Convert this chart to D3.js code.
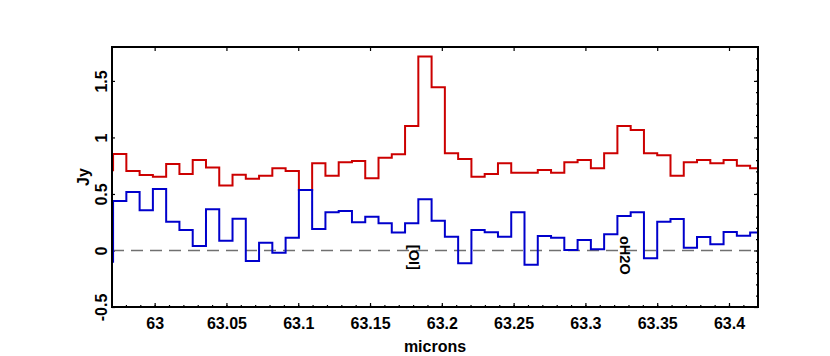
<!DOCTYPE html>
<html>
<head>
<meta charset="utf-8">
<title>Spectrum</title>
<style>
    body { margin: 0; background: #fff; }
    svg text { font-family: "Liberation Sans", Arial, sans-serif; font-weight: bold; }
</style>
</head>
<body>
<script src="https://cdn.jsdelivr.net/npm/d3@7/dist/d3.min.js"></script>
<script>
    // bin left edges (microns), last entry is the right edge of the last bin
    var edges = [62.96181, 62.97105, 62.98029, 62.98953, 62.99878, 63.00802, 63.01726, 63.02651,
        63.03575, 63.04499, 63.05424, 63.06348, 63.07272, 63.08196, 63.09121, 63.10045,
        63.10969, 63.11894, 63.12818, 63.13742, 63.14667, 63.15591, 63.16515, 63.17440,
        63.18364, 63.19288, 63.20212, 63.21137, 63.22061, 63.22985, 63.23910, 63.24834,
        63.25758, 63.26683, 63.27607, 63.28531, 63.29456, 63.30380, 63.31304, 63.32228,
        63.33153, 63.34077, 63.35001, 63.35926, 63.36850, 63.37774, 63.38699, 63.39623,
        63.40547, 63.41472, 63.42396];

    // flux (Jy) per bin
    var fluxRed = [0.71, 0.854, 0.703, 0.668, 0.653, 0.765, 0.677, 0.80, 0.733, 0.574,
        0.671, 0.635, 0.662, 0.727, 0.703, 0.535, 0.771, 0.662, 0.78, 0.792,
        0.639, 0.821, 0.851, 1.101, 1.715, 1.444, 0.86, 0.809, 0.653, 0.677,
        0.771, 0.688, 0.688, 0.712, 0.688, 0.78, 0.80, 0.727, 0.86, 1.101,
        1.066, 0.86, 0.842, 0.662, 0.78, 0.80, 0.771, 0.80, 0.75, 0.727];

    var fluxBlue = [-0.099, 0.438, 0.518, 0.355, 0.544, 0.255, 0.181, 0.04, 0.364, 0.087,
        0.281, -0.093, 0.069, -0.019, 0.113, 0.535, 0.19, 0.338, 0.349, 0.249,
        0.299, 0.24, 0.158, 0.24, 0.453, 0.264, 0.122, -0.114, 0.181, 0.161,
        0.122, 0.338, -0.126, 0.128, 0.113, 0.004, 0.093, 0.011, 0.143, 0.305,
        0.338, -0.069, 0.255, 0.279, 0.025, 0.119, 0.055, 0.164, 0.131, 0.158];

    var xTicks = [63, 63.05, 63.1, 63.15, 63.2, 63.25, 63.3, 63.35, 63.4];
    var xTickLabels = ["63", "63.05", "63.1", "63.15", "63.2", "63.25", "63.3", "63.35", "63.4"];
    var yTicks = [-0.5, 0, 0.5, 1, 1.5];
    var yTickLabels = ["-0.5", "0", "0.5", "1", "1.5"];

    var lineLabels = ["[OI]", "oH2O"];
    var lineLabelPos = [63.1769, 63.3239];
    var lineLabelTop = [0.05, 0.128];

    var margin = {top: 47, right: 72, bottom: 49, left: 112},
        width = 830 - margin.left - margin.right,
        height = 356 - margin.top - margin.bottom;

    var x = d3.scaleLinear().domain([62.9703, 63.4202]).range([0, width]);
    var y = d3.scaleLinear().domain([-0.5, 1.8]).range([height, 0]);

    var svg = d3.select("body").append("svg")
        .attr("width", 830)
        .attr("height", 356)
        .append("g")
        .attr("transform", "translate(" + margin.left + "," + margin.top + ")");

    svg.append("clipPath").attr("id", "clip")
        .append("rect").attr("width", width).attr("height", height);

    // minor ticks
    var xMinor = d3.range(-3, 43).map(function (i) { return +(63 + i * 0.01).toFixed(2); });
    var yMinor = d3.range(-5, 19).map(function (i) { return +(i * 0.1).toFixed(1); });

    function tickStyle(g) {
        g.select(".domain").remove();
        g.selectAll("line").attr("stroke", "#000").attr("stroke-width", 1.2);
    }

    svg.append("g")
        .attr("transform", "translate(0," + height + ")")
        .call(d3.axisBottom(x).tickValues(xMinor).tickSize(-2).tickFormat(""))
        .call(tickStyle);

    svg.append("g")
        .attr("transform", "translate(" + width + ",0)")
        .call(d3.axisRight(y).tickValues(yMinor).tickSize(-2).tickFormat(""))
        .call(tickStyle);

    var xAxis = svg.append("g")
        .attr("transform", "translate(0," + height + ")")
        .call(d3.axisBottom(x).tickValues(xTicks).tickSize(-4).tickPadding(11)
            .tickFormat(function (d, i) { return xTickLabels[i]; }))
        .call(tickStyle);
    xAxis.selectAll("text")
        .attr("fill", "#000")
        .style("font-size", "16px");

    svg.append("g")
        .call(d3.axisTop(x).tickValues(xTicks).tickSize(-4).tickFormat(""))
        .call(tickStyle);

    svg.append("g")
        .attr("transform", "translate(" + width + ",0)")
        .call(d3.axisRight(y).tickValues(yTicks).tickSize(-4).tickFormat(""))
        .call(tickStyle);

    var yAxis = svg.append("g")
        .call(d3.axisLeft(y).tickValues(yTicks).tickSize(-3)
            .tickFormat(function (d, i) { return yTickLabels[i]; }))
        .call(tickStyle);
    yAxis.selectAll("text")
        .attr("fill", "#000")
        .attr("transform", "rotate(-90)")
        .attr("x", 0)
        .attr("y", -5)
        .attr("dy", 0)
        .style("text-anchor", "middle")
        .style("font-size", "16px");

    // zero line
    svg.append("line")
        .attr("x1", 0).attr("x2", width)
        .attr("y1", y(0)).attr("y2", y(0))
        .attr("stroke", "#707070")
        .attr("stroke-width", 1.4)
        .attr("stroke-dasharray", "12,7");

    var line = d3.line().curve(d3.curveStepAfter);

    function stepPoints(vals) {
        var pts = vals.map(function (v, i) { return [x(edges[i]), y(v)]; });
        pts.push([x(edges[vals.length]), y(vals[vals.length - 1])]);
        return pts;
    }

    svg.append("path")
        .attr("clip-path", "url(#clip)")
        .attr("d", line(stepPoints(fluxRed)))
        .attr("fill", "none")
        .attr("stroke", "#cc0000")
        .attr("stroke-width", 2);

    svg.append("path")
        .attr("clip-path", "url(#clip)")
        .attr("d", line(stepPoints(fluxBlue)))
        .attr("fill", "none")
        .attr("stroke", "#0000cc")
        .attr("stroke-width", 2);

    // line identifications
    lineLabels.forEach(function (t, i) {
        svg.append("text")
            .attr("transform", "translate(" + x(lineLabelPos[i]) + "," + y(lineLabelTop[i]) + ") rotate(90)")
            .style("font-size", "14.5px")
            .text(t);
    });

    // frame
    svg.append("rect")
        .attr("width", width)
        .attr("height", height)
        .attr("fill", "none")
        .attr("stroke", "#000")
        .attr("stroke-width", 2);

    svg.append("text")
        .attr("x", width / 2)
        .attr("y", height + 45)
        .style("text-anchor", "middle")
        .style("font-size", "16px")
        .text("microns");

    svg.append("text")
        .attr("transform", "translate(-23," + height / 2 + ") rotate(-90)")
        .style("text-anchor", "middle")
        .style("font-size", "16px")
        .text("Jy");
</script>
</body>
</html>
